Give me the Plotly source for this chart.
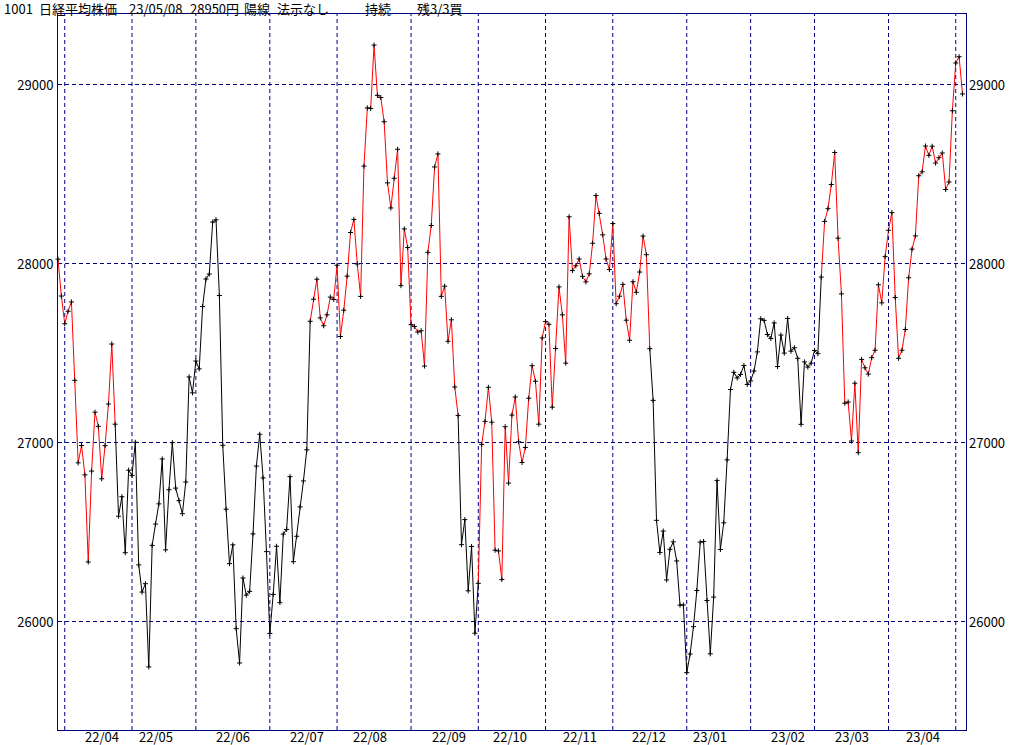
import plotly.graph_objects as go

# 日経平均 終値 (月ごと)
c2203 = [28027, 27821]
c2204 = [27666, 27736, 27788, 27350, 26889, 26986, 26822, 26335, 26843, 27172,
         27093, 26800, 26985, 27218, 27553, 27105, 26591, 26700, 26387, 26848]
c2205 = [26819, 27004, 26319, 26167, 26214, 25749, 26428, 26547, 26660, 26911,
         26403, 26739, 27002, 26748, 26678, 26605, 26782, 27369, 27280]
c2206 = [27458, 27414, 27762, 27916, 27944, 28234, 28247, 27824, 26987, 26630, 26326,
         26431, 25963, 25771, 26246, 26150, 26171, 26492, 26871, 27049, 26805, 26393]
c2207 = [25936, 26154, 26423, 26108, 26491, 26517, 26812, 26337, 26479, 26643,
         26788, 26962, 27680, 27803, 27915, 27699, 27655, 27716, 27815, 27802]
c2208 = [27993, 27595, 27742, 27932, 28176, 28249, 28000, 27819, 28547, 28872, 28869,
         29223, 28942, 28930, 28795, 28453, 28313, 28479, 28641, 27879, 28196, 28092]
c2209 = [27661, 27651, 27620, 27627, 27430, 28065, 28215, 28542, 28615, 27819,
         27876, 27568, 27688, 27313, 27154, 26432, 26572, 26174, 26422, 25937]
c2210 = [26216, 26992, 27121, 27311, 27116, 26401, 26397, 26237, 27091, 26776,
         27156, 27257, 27007, 26891, 26975, 27250, 27432, 27345, 27105, 27587]
c2211 = [27679, 27663, 27200, 27528, 27872, 27716, 27446, 28264, 27963, 27990,
         28028, 27931, 27900, 27945, 28116, 28383, 28283, 28163, 28028, 27969]
c2212 = [28226, 27778, 27820, 27886, 27686, 27574, 27901, 27842, 27955, 28156, 28052,
         27527, 27238, 26568, 26388, 26508, 26235, 26406, 26448, 26341, 26094, 26095]
c2301 = [25717, 25821, 25974, 26176, 26446, 26450, 26120, 25822, 26139, 26791,
         26405, 26554, 26906, 27299, 27395, 27363, 27383, 27433, 27327]
c2302 = [27347, 27402, 27509, 27694, 27685, 27606, 27584, 27671, 27427, 27603,
         27502, 27696, 27513, 27532, 27473, 27104, 27453, 27424, 27446]
c2303 = [27517, 27499, 27927, 28238, 28309, 28444, 28623, 28144, 27833, 27222, 27229,
         27011, 27334, 26946, 27467, 27420, 27385, 27477, 27518, 27884, 27783, 28041]
c2304 = [28188, 28287, 27813, 27473, 27518, 27634, 27923, 28083, 28157, 28493,
         28515, 28659, 28607, 28658, 28564, 28594, 28620, 28416, 28458, 28856]
c2305 = [29123, 29158, 28950]

months = ["22/03", "22/04", "22/05", "22/06", "22/07", "22/08", "22/09",
          "22/10", "22/11", "22/12", "23/01", "23/02", "23/03", "23/04", "23/05"]
monthly = [c2203, c2204, c2205, c2206, c2207, c2208, c2209,
           c2210, c2211, c2212, c2301, c2302, c2303, c2304, c2305]

# 陽線/陰線 の切り替わり (営業日の通し番号)
first_state = "up"
turn_at = [17, 75, 119, 125, 176, 227]   # 4/22, 7/20, 9/22, 10/3, 12/16, 3/3

y_ticks = [26000, 27000, 28000, 29000]
# 月ラベルの位置 (営業日の通し番号)
label_pos = [13.2, 29.0, 52.0, 74.2, 92.9, 116.4, 134.3,
             155.1, 175.9, 194.0, 217.0, 236.1, 257.4]

# ヘッダー文字列 (文字, 左端px)
title_parts = [("1001", 2), ("日経平均株価", 37), ("23/05/08", 127),
               ("28950円", 188), ("陽線", 242), ("法示なし", 275),
               ("持続", 363), ("残3/3買", 415)]

NAVY = "#000080"
FONT = "Noto Sans CJK JP"

closes = [v for m in monthly for v in m]
idx = list(range(len(closes)))
month_start = []
n = 0
for m in monthly:
    month_start.append(n)
    n += len(m)

# 状態ごとに線を分ける (区間 i -> i+1 は i の状態で色付け)
state = []
cur = first_state
for i in idx:
    if i in turn_at:
        cur = "down" if cur == "up" else "up"
    state.append(cur)

fig = go.Figure()

start = 0
for i in range(1, len(closes) + 1):
    if i == len(closes) or state[i] != state[start]:
        end = min(i, len(closes) - 1)
        fig.add_trace(go.Scatter(
            x=idx[start:end + 1], y=closes[start:end + 1],
            mode="lines",
            line=dict(color="#ff0000" if state[start] == "up" else "#000000", width=1),
            cliponaxis=False, hoverinfo="skip", showlegend=False
        ))
        start = i

fig.add_trace(go.Scatter(
    x=idx, y=closes, mode="markers",
    marker=dict(symbol="cross-thin", size=3.6, color="black",
                line=dict(color="black", width=1)),
    cliponaxis=False, showlegend=False
))

for s in month_start[1:]:
    fig.add_shape(type="line", x0=s, x1=s, yref="paper", y0=0, y1=1,
                  line=dict(color=NAVY, width=1, dash="4px,3px"), layer="below")

for pos, lab in zip(label_pos, months[1:-1]):
    fig.add_annotation(x=pos, y=0, yref="paper", text=lab, showarrow=False,
                       yanchor="middle", yshift=-6.5,
                       font=dict(family=FONT, size=13, color="black"))

for v in y_ticks:
    fig.add_annotation(x=1, xref="paper", y=v, text=str(v), showarrow=False,
                       xanchor="left", xshift=1, font=dict(family=FONT, size=13, color="black"))

for txt, px in title_parts:
    fig.add_annotation(x=(px - 58) / 908, xref="paper", y=1, yref="paper", text=txt,
                       showarrow=False, xanchor="left", yanchor="middle", yshift=5.5,
                       font=dict(family=FONT, size=13, color="black"))

fig.update_layout(
    width=1024, height=745,
    margin=dict(l=58, r=58, t=14, b=15),
    paper_bgcolor="white", plot_bgcolor="white",
    showlegend=False,
    xaxis=dict(range=[0, 270.05], showgrid=False, zeroline=False, showticklabels=False,
               showline=True, mirror=True, linecolor=NAVY, linewidth=1, ticks=""),
    yaxis=dict(range=[25396.6, 29396.6], tickvals=y_ticks,
               ticktext=[str(v) for v in y_ticks], showgrid=True,
               gridcolor=NAVY, gridwidth=1, griddash="4px,3px", zeroline=False,
               showline=True, mirror=True, linecolor=NAVY, linewidth=1, ticks="",
               ticklabelstandoff=1, tickfont=dict(family=FONT, size=13, color="black")),
)

fig.write_html("out.html", config={"displayModeBar": False},
               post_script="document.body.style.margin='0';")
